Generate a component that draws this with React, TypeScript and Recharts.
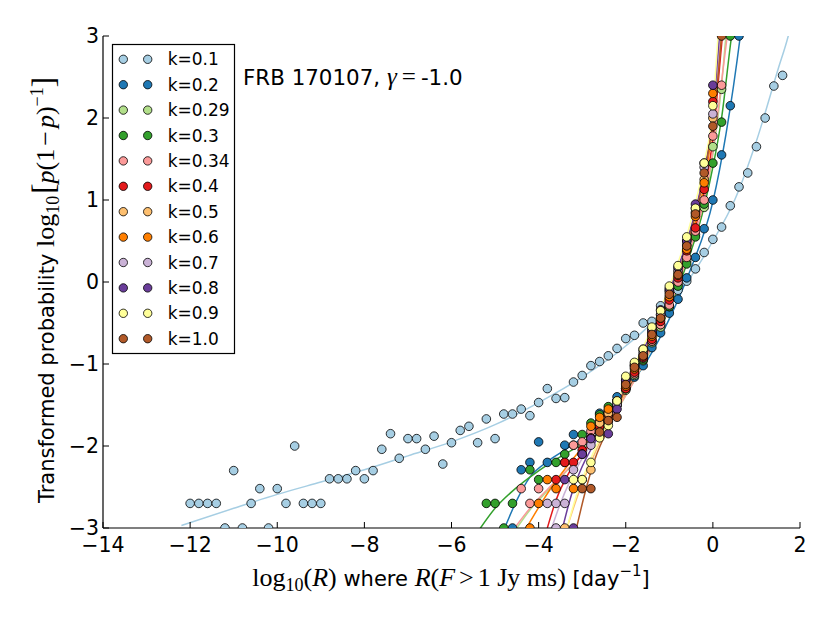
import React from 'react';
import { ComposedChart, XAxis, YAxis, Scatter, Line } from 'recharts';

type P = [number, number];

const kLabels = ['0.1', '0.2', '0.29', '0.3', '0.34', '0.4', '0.5', '0.6', '0.7', '0.8', '0.9', '1.0'];
const kColors = ['#a6cee3', '#1f78b4', '#b2df8a', '#33a02c', '#fb9a99', '#e31a1c', '#fdbf6f', '#ff7f00', '#cab2d6', '#6a3d9a', '#ffff99', '#b15928'];
const xTicks = [-14, -12, -10, -8, -6, -4, -2, 0, 2];
const yTicks = [-3, -2, -1, 0, 1, 2, 3];

// k = 0.1
const pts01: P[] = [[-12.0,-2.7],[-11.8,-2.7],[-11.6,-2.7],[-11.4,-2.7],[-11.2,-3.0],[-11.0,-2.3],[-10.8,-3.0],[-10.6,-2.7],[-10.4,-2.52],[-10.2,-3.0],[-10.0,-2.52],[-9.8,-2.7],[-9.6,-2.0],[-9.4,-2.7],[-9.2,-2.7],[-9.0,-2.7],[-8.8,-2.4],[-8.6,-2.4],[-8.4,-2.4],[-8.2,-2.3],[-8.0,-2.4],[-7.8,-2.3],[-7.6,-2.04],[-7.4,-1.85],[-7.2,-2.15],[-7.0,-1.91],[-6.8,-1.91],[-6.6,-2.04],[-6.4,-1.88],[-6.2,-2.22],[-6.0,-1.96],[-5.8,-1.81],[-5.6,-1.76],[-5.4,-1.96],[-5.2,-1.67],[-5.0,-1.91],[-4.8,-1.61],[-4.6,-1.61],[-4.4,-1.55],[-4.2,-1.63],[-4.0,-1.47],[-3.8,-1.30],[-3.6,-1.42],[-3.4,-1.41],[-3.2,-1.22],[-3.0,-1.14],[-2.8,-1.02],[-2.6,-0.97],[-2.4,-0.90],[-2.2,-0.81],[-2.0,-0.69],[-1.8,-0.65],[-1.6,-0.50],[-1.4,-0.48],[-1.2,-0.29],[-1.0,-0.20],[-0.8,-0.10],[-0.6,0.01],[-0.4,0.16],[-0.2,0.36],[0.0,0.52],[0.2,0.67],[0.4,0.93],[0.6,1.16],[0.8,1.33],[1.0,1.65],[1.2,2.0],[1.4,2.39],[1.6,2.52]];
const crv01: P[] = [[-12.2,-2.97],[-11,-2.76],[-10,-2.59],[-9,-2.44],[-8,-2.29],[-7,-2.12],[-6,-1.95],[-5,-1.74],[-4,-1.47],[-3,-1.16],[-2,-0.78],[-1.5,-0.55],[-1,-0.25],[-0.5,0.07],[0,0.5],[0.5,1.0],[1.0,1.72],[1.5,2.6],[1.73,3.0],[1.8,3.15]];

// k = 0.2
const pts02: P[] = [[-4.6,-3.0],[-4.4,-2.29],[-4.2,-2.2],[-4.0,-1.95],[-3.8,-2.2],[-3.4,-1.99],[-3.2,-1.86],[-2.6,-1.6],[-2.4,-1.57],[-2.2,-1.4],[-2.0,-1.3],[-1.8,-1.16],[-1.6,-1.02],[-1.4,-0.8],[-1.2,-0.62],[-1.0,-0.38],[-0.8,-0.21],[-0.6,0.05],[-0.4,0.30],[-0.2,0.65],[0.0,1.0],[0.2,1.55],[0.4,2.15],[0.6,3.0]];
const crv02: P[] = [[-4.78,-3.0],[-4.5,-2.66],[-4.2,-2.38],[-3.8,-2.19],[-3.4,-2.05],[-3.0,-1.9],[-2.5,-1.62],[-2.0,-1.32],[-1.5,-0.95],[-1.0,-0.45],[-0.5,0.17],[0,0.98],[0.3,1.8],[0.63,3.0],[0.7,3.3]];

// k = 0.29
const pts029: P[] = [[-3.4,-2.2],[-3.0,-1.99],[-2.8,-1.9],[-2.6,-1.78],[-2.4,-1.62],[-2.2,-1.5],[-2.0,-1.32],[-1.8,-1.14],[-1.6,-0.96],[-1.4,-0.74],[-1.2,-0.55],[-1.0,-0.3],[-0.8,-0.03],[-0.6,0.26],[-0.4,0.58],[-0.2,0.91],[0.0,1.65],[0.2,2.35]];
const crv029: P[] = [[-4.5,-3.0],[-4.2,-2.78],[-3.8,-2.55],[-3.4,-2.33],[-3.0,-2.1],[-2.6,-1.86],[-2.2,-1.56],[-1.8,-1.2],[-1.4,-0.8],[-1.0,-0.32],[-0.6,0.25],[-0.2,0.95],[0,1.55],[0.2,2.4],[0.3,3.0],[0.35,3.25]];

// k = 0.3
const pts03: P[] = [[-5.2,-2.7],[-5.0,-2.7],[-4.8,-3.0],[-4.6,-2.7],[-4.2,-2.29],[-4.0,-2.41],[-3.6,-2.2],[-3.4,-2.1],[-3.2,-1.99],[-3.0,-1.86],[-2.8,-1.72],[-2.6,-1.62],[-2.4,-1.52],[-2.2,-1.45],[-2.0,-1.3],[-1.8,-1.12],[-1.6,-0.95],[-1.4,-0.72],[-1.2,-0.52],[-1.0,-0.3],[-0.8,-0.05],[-0.6,0.22],[-0.4,0.55],[-0.2,0.95],[0.0,1.45],[0.2,1.95],[0.4,3.0]];
const crv03: P[] = [[-5.4,-3.05],[-5.0,-2.76],[-4.6,-2.55],[-4.2,-2.38],[-3.8,-2.23],[-3.4,-2.1],[-3.0,-1.97],[-2.6,-1.78],[-2.2,-1.52],[-1.8,-1.18],[-1.4,-0.78],[-1.0,-0.32],[-0.6,0.22],[-0.2,0.92],[0,1.4],[0.2,2.0],[0.43,3.0],[0.5,3.25]];

// k = 0.34
const pts034: P[] = [[-4.4,-2.52],[-4.2,-2.7],[-4.0,-2.52],[-3.2,-1.99],[-3.0,-1.95],[-2.8,-1.82],[-2.6,-1.7],[-2.4,-1.6],[-2.2,-1.45],[-2.0,-1.3],[-1.8,-1.12],[-1.6,-0.93],[-1.4,-0.72],[-1.2,-0.52],[-1.0,-0.28],[-0.8,0.0],[-0.6,0.3],[-0.4,0.62],[-0.2,1.0],[0.0,1.78],[0.2,2.4]];
const crv034: P[] = [[-4.55,-3.0],[-4.2,-2.76],[-3.8,-2.53],[-3.4,-2.32],[-3.0,-2.1],[-2.6,-1.85],[-2.2,-1.55],[-1.8,-1.2],[-1.4,-0.78],[-1.0,-0.3],[-0.6,0.28],[-0.2,1.0],[0,1.6],[0.2,2.45],[0.33,3.0],[0.4,3.3]];

// k = 0.4
const pts04: P[] = [[-3.6,-2.41],[-3.4,-2.2],[-3.2,-2.2],[-3.0,-2.05],[-2.8,-1.9],[-2.6,-1.76],[-2.4,-1.62],[-2.2,-1.45],[-2.0,-1.3],[-1.8,-1.1],[-1.6,-0.92],[-1.4,-0.7],[-1.2,-0.48],[-1.0,-0.22],[-0.8,0.05],[-0.6,0.38],[-0.4,0.66],[-0.2,1.13],[0.0,2.2]];
const crv04: P[] = [[-3.8,-3.0],[-3.6,-2.66],[-3.35,-2.37],[-3.0,-2.1],[-2.6,-1.82],[-2.2,-1.5],[-1.8,-1.15],[-1.4,-0.74],[-1.0,-0.25],[-0.6,0.35],[-0.2,1.1],[0,1.75],[0.22,3.0],[0.3,3.4]];

// k = 0.5
const pts05: P[] = [[-3.4,-3.0],[-3.0,-2.41],[-2.8,-2.29],[-2.6,-1.72],[-2.4,-1.6],[-2.2,-1.5],[-2.0,-1.24],[-1.8,-1.02],[-1.6,-0.85],[-1.4,-0.62],[-1.2,-0.4],[-1.0,-0.12],[-0.8,0.12],[-0.6,0.45],[-0.4,0.85],[-0.2,1.25],[0.0,2.0]];
const crv05: P[] = [[-3.35,-3.0],[-3.1,-2.6],[-2.8,-2.2],[-2.5,-1.85],[-2.2,-1.55],[-1.8,-1.12],[-1.4,-0.68],[-1.0,-0.18],[-0.6,0.4],[-0.2,1.2],[0,1.9],[0.19,3.0],[0.25,3.35]];

// k = 0.6
const pts06: P[] = [[-4.2,-3.0],[-4.0,-2.7],[-3.8,-2.41],[-3.6,-2.52],[-3.2,-2.52],[-3.0,-2.1],[-2.8,-1.76],[-2.6,-1.65],[-2.4,-1.55],[-2.2,-1.45],[-2.0,-1.27],[-1.8,-1.06],[-1.6,-0.9],[-1.4,-0.66],[-1.2,-0.44],[-1.0,-0.18],[-0.8,0.08],[-0.6,0.4],[-0.4,0.8],[-0.2,1.21],[0.0,2.3]];
const crv06: P[] = [[-4.28,-3.0],[-4.0,-2.75],[-3.7,-2.5],[-3.35,-2.25],[-3.0,-2.02],[-2.6,-1.75],[-2.2,-1.45],[-1.8,-1.1],[-1.4,-0.7],[-1.0,-0.2],[-0.6,0.38],[-0.2,1.2],[0,1.95],[0.18,3.0],[0.25,3.4]];

// k = 0.7
const pts07: P[] = [[-3.8,-2.7],[-3.6,-3.0],[-3.6,-2.7],[-3.4,-2.7],[-3.2,-2.29],[-3.0,-2.1],[-2.8,-1.99],[-2.6,-1.86],[-2.4,-1.7],[-2.2,-1.5],[-2.0,-1.2],[-1.8,-1.02],[-1.6,-0.88],[-1.4,-0.6],[-1.2,-0.4],[-1.0,-0.1],[-0.8,0.15],[-0.6,0.5],[-0.4,0.9],[-0.2,1.4],[0.0,2.05]];
const crv07: P[] = [[-3.7,-3.0],[-3.5,-2.7],[-3.3,-2.45],[-3.0,-2.15],[-2.6,-1.85],[-2.2,-1.5],[-1.8,-1.08],[-1.4,-0.64],[-1.0,-0.14],[-0.6,0.45],[-0.2,1.3],[0,2.0],[0.17,3.0],[0.25,3.45]];

// k = 0.8
const pts08: P[] = [[-3.4,-2.41],[-3.2,-3.0],[-3.0,-2.1],[-2.8,-1.91],[-2.4,-1.85],[-2.2,-1.55],[-2.0,-1.2],[-1.8,-1.0],[-1.6,-0.82],[-1.4,-0.58],[-1.2,-0.34],[-1.0,-0.08],[-0.8,0.18],[-0.6,0.5],[-0.4,0.95],[-0.2,1.45],[0.0,2.4]];
const crv08: P[] = [[-3.45,-3.0],[-3.25,-2.6],[-3.0,-2.25],[-2.7,-1.95],[-2.3,-1.6],[-1.9,-1.15],[-1.5,-0.72],[-1.1,-0.22],[-0.7,0.33],[-0.3,1.1],[0,2.05],[0.15,3.0],[0.22,3.4]];

// k = 0.9
const pts09: P[] = [[-3.2,-2.41],[-3.0,-2.41],[-2.8,-2.2],[-2.6,-1.9],[-2.4,-1.75],[-2.2,-1.45],[-2.0,-1.15],[-1.8,-0.98],[-1.6,-0.82],[-1.4,-0.55],[-1.2,-0.35],[-1.0,-0.05],[-0.8,0.2],[-0.6,0.55],[-0.4,0.9],[-0.2,1.45],[0.0,2.15]];
const crv09: P[] = [[-3.35,-3.0],[-3.1,-2.55],[-2.8,-2.15],[-2.5,-1.8],[-2.1,-1.35],[-1.7,-0.9],[-1.3,-0.45],[-0.9,0.08],[-0.5,0.75],[-0.2,1.45],[0,2.1],[0.12,3.0],[0.2,3.5]];

// k = 1.0
const pts10: P[] = [[-3.0,-2.52],[-2.8,-2.52],[-2.6,-1.83],[-2.4,-1.69],[-2.2,-1.65],[-2.0,-1.25],[-1.8,-1.04],[-1.6,-0.9],[-1.4,-0.64],[-1.2,-0.44],[-1.0,-0.15],[-0.8,0.09],[-0.6,0.44],[-0.4,0.83],[-0.2,1.33],[0.0,1.9],[0.2,3.0]];
const crv10: P[] = [[-3.13,-3.0],[-2.95,-2.6],[-2.7,-2.15],[-2.4,-1.78],[-2.0,-1.3],[-1.6,-0.88],[-1.2,-0.42],[-0.8,0.1],[-0.4,0.82],[-0.1,1.6],[0.1,2.4],[0.2,3.0],[0.25,3.3]];

const allPts = [pts01, pts02, pts029, pts03, pts034, pts04, pts05, pts06, pts07, pts08, pts09, pts10];
const allCrv = [crv01, crv02, crv029, crv03, crv034, crv04, crv05, crv06, crv07, crv08, crv09, crv10];

const series = kLabels.map((k, i) => ({
  k,
  color: kColors[i],
  pts: allPts[i].map(([x, y]) => ({ x, y })),
  crv: allCrv[i].map(([x, y]) => ({ x, y })),
}));

const SANS = 'DejaVu Sans';
const SERIF = 'Liberation Serif';
const W = 814;
const H = 600;
const TICK = 6;

const fmt = (v: number) => (v < 0 ? '\u2212' + Math.abs(v) : String(v));

const BottomTick = (p: any) => (
  <g>
    <line x1={p.x} x2={p.x} y1={p.y} y2={p.y - TICK} stroke="#000" strokeWidth={1} />
    <text x={p.x} y={p.y + 24} textAnchor="middle" fontSize={20.5} fontFamily={SANS} fill="#000">{fmt(p.payload.value)}</text>
  </g>
);
const TopTick = (p: any) => (
  <line x1={p.x} x2={p.x} y1={p.y} y2={p.y + TICK} stroke="#000" strokeWidth={1} />
);
const LeftTick = (p: any) => (
  <g>
    <line x1={p.x} x2={p.x + TICK} y1={p.y} y2={p.y} stroke="#000" strokeWidth={1} />
    <text x={p.x - 4} y={p.y + 7} textAnchor="end" fontSize={20.5} fontFamily={SANS} fill="#000">{fmt(p.payload.value)}</text>
  </g>
);
const RightTick = (p: any) => (
  <line x1={p.x} x2={p.x - TICK} y1={p.y} y2={p.y} stroke="#000" strokeWidth={1} />
);

const makeDot = (color: string) => (p: any) => (
  <circle cx={p.cx} cy={p.cy} r={4.3} fill={color} stroke="#000" strokeWidth={0.8} />
);

export default function App() {
  return (
    <div style={{ position: 'relative', width: W, height: H }}>
      <ComposedChart width={W} height={H} margin={{ top: 28, right: 22, bottom: 0, left: 0 }}>
        <XAxis dataKey="x" type="number" domain={[-14, 2]} ticks={xTicks} interval={0} allowDataOverflow
          height={80} tickSize={0} tickMargin={0} tickLine={false} tick={BottomTick}
          axisLine={{ stroke: '#000', strokeWidth: 1.2 }} />
        <XAxis xAxisId="top" orientation="top" dataKey="x" type="number" domain={[-14, 2]} ticks={xTicks} interval={0} allowDataOverflow
          height={0} tickSize={0} tickMargin={0} tickLine={false} tick={TopTick}
          axisLine={{ stroke: '#000', strokeWidth: 1.2 }} />
        <YAxis dataKey="y" type="number" domain={[-3, 3]} ticks={yTicks} interval={0} allowDataOverflow
          width={95} tickSize={0} tickMargin={0} tickLine={false} tick={LeftTick}
          axisLine={{ stroke: '#000', strokeWidth: 1.2 }} />
        <YAxis yAxisId="right" orientation="right" dataKey="y" type="number" domain={[-3, 3]} ticks={yTicks} interval={0} allowDataOverflow
          width={0} tickSize={0} tickMargin={0} tickLine={false} tick={RightTick}
          axisLine={{ stroke: '#000', strokeWidth: 1.2 }} />
        {series.flatMap((s) => [
          <Scatter key={'s' + s.k} name={'k=' + s.k} data={s.pts} dataKey="y" fill={s.color}
            shape={makeDot(s.color)} isAnimationActive={false} />,
          <Line key={'l' + s.k} data={s.crv} dataKey="y" type="monotone" stroke={s.color} strokeWidth={1.5}
            dot={false} activeDot={false} isAnimationActive={false} legendType="none" />,
        ])}
      </ComposedChart>
      <svg width={W} height={H} style={{ position: 'absolute', left: 0, top: 0, pointerEvents: 'none' }}>
        <g transform="translate(104,36)">
          <rect x={0.5} y={0.5} width={122} height={309} fill="#fff" stroke="#000" strokeWidth={1.2} />
          {series.map((s, i) => (
            <g key={s.k} transform={`translate(0,${15.3 + i * 25.4})`}>
              <circle cx={11.3} cy={0} r={4.2} fill={s.color} stroke="#000" strokeWidth={0.8} />
              <circle cx={35.7} cy={0} r={4.2} fill={s.color} stroke="#000" strokeWidth={0.8} />
              <text x={55.7} y={6} fontSize={17} fontFamily={SANS} fill="#000">{'k=' + s.k}</text>
            </g>
          ))}
        </g>
        <text x={235} y={77} fontSize={21.4} fontFamily={SANS} fill="#000">
          <tspan>FRB 170107, </tspan>
          <tspan fontFamily={SERIF} fontStyle="italic" fontSize={25}>γ</tspan>
          <tspan fontFamily={SERIF} fontSize={25} dx={5}>=</tspan>
          <tspan dx={5}>-1.0</tspan>
        </text>
        <text x={443} y={578} textAnchor="middle" fontSize={21} fontFamily={SANS} fill="#000">
          <tspan fontFamily={SERIF} fontSize={26}>log</tspan>
          <tspan fontFamily={SERIF} fontSize={18} dy={5}>10</tspan>
          <tspan fontFamily={SERIF} fontSize={26} dy={-5}>(</tspan>
          <tspan fontFamily={SERIF} fontSize={26} fontStyle="italic">R</tspan>
          <tspan fontFamily={SERIF} fontSize={26}>)</tspan>
          <tspan> where </tspan>
          <tspan fontFamily={SERIF} fontSize={26} fontStyle="italic">R</tspan>
          <tspan fontFamily={SERIF} fontSize={26}>(</tspan>
          <tspan fontFamily={SERIF} fontSize={26} fontStyle="italic">F</tspan>
          <tspan fontFamily={SERIF} fontSize={26} dx={4}>{'>'}</tspan>
          <tspan fontFamily={SERIF} fontSize={26} dx={4}>{'1 Jy ms)'}</tspan>
          <tspan> [day</tspan>
          <tspan fontSize={15} dy={-10}>−1</tspan>
          <tspan dy={10}>]</tspan>
        </text>
        <text transform="translate(46,282) rotate(-90)" x={0} y={0} textAnchor="middle" fontSize={21} fontFamily={SANS} fill="#000">
          <tspan>Transformed probability </tspan>
          <tspan fontFamily={SERIF} fontSize={26}>log</tspan>
          <tspan fontFamily={SERIF} fontSize={18} dy={5}>10</tspan>
          <tspan fontFamily={SERIF} fontSize={31} dy={-5} dx={2}>[</tspan>
          <tspan fontFamily={SERIF} fontSize={26} fontStyle="italic">p</tspan>
          <tspan fontFamily={SERIF} fontSize={26}>(1</tspan>
          <tspan fontFamily={SERIF} fontSize={26} dx={3}>−</tspan>
          <tspan fontFamily={SERIF} fontSize={26} fontStyle="italic" dx={3}>p</tspan>
          <tspan fontFamily={SERIF} fontSize={26}>)</tspan>
          <tspan fontFamily={SERIF} fontSize={18} dy={-11}>−1</tspan>
          <tspan fontFamily={SERIF} fontSize={31} dy={11}>]</tspan>
        </text>
      </svg>
    </div>
  );
}
